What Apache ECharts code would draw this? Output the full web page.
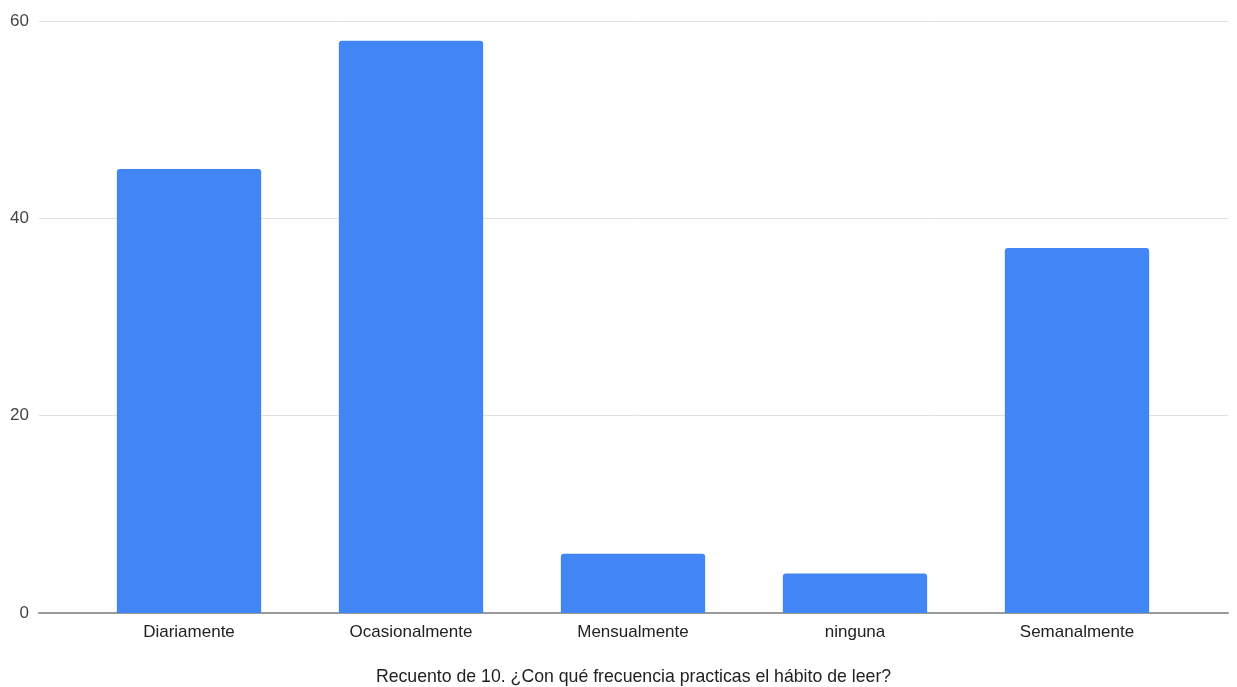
<!DOCTYPE html>
<html><head><meta charset="utf-8">
<script src="https://cdn.jsdelivr.net/npm/echarts@6/dist/echarts.min.js"></script>
<style>html,body{margin:0;padding:0;background:#fff}#c{width:1237px;height:687px}</style>
</head><body><div id="c"></div>
<script>
const categories = ["Diariamente", "Ocasionalmente", "Mensualmente", "ninguna", "Semanalmente"];
const counts = [45, 58, 6, 4, 37];
const yTicks = [0, 20, 40, 60];
const xTitle = "Recuento de 10. ¿Con qué frecuencia practicas el hábito de leer?";

const chart = echarts.init(document.getElementById('c'));
const font = '"Liberation Sans", Arial, sans-serif';
chart.setOption({
  animation: false,
  grid: [
    {left: 39, right: 9, top: 21, bottom: 74, outerBoundsMode: 'none', containLabel: false},
    {left: 78, right: 49, top: 21, bottom: 74, outerBoundsMode: 'none', containLabel: false}
  ],
  xAxis: [
    {type: 'value', gridIndex: 0, min: 0, max: 1, show: true,
     axisLine: {show: true, onZero: false, lineStyle: {color: '#999', width: 2}},
     axisTick: {show: false}, axisLabel: {show: false}, splitLine: {show: false},
     name: xTitle, nameLocation: 'middle', nameGap: 55,
     nameTextStyle: {color: '#222', fontSize: 17.7, fontFamily: font}},
    {type: 'category', gridIndex: 1, data: categories,
     axisLine: {show: false}, axisTick: {show: false},
     axisLabel: {color: '#222', fontSize: 17, fontFamily: font, margin: 11}}
  ],
  yAxis: [
    {type: 'value', gridIndex: 0, min: yTicks[0], max: yTicks[yTicks.length-1], interval: 20,
     axisLine: {show: false}, axisTick: {show: false},
     axisLabel: {color: '#444', fontSize: 17, fontFamily: font, margin: 10},
     splitLine: {lineStyle: {color: '#e0e0e0', width: 1}}},
    {type: 'value', gridIndex: 1, min: yTicks[0], max: yTicks[yTicks.length-1], interval: 20,
     show: false}
  ],
  series: [{
    type: 'bar', xAxisIndex: 1, yAxisIndex: 1, data: counts,
    barCategoryGap: '35%',
    itemStyle: {color: '#4285F4', borderRadius: [3, 3, 0, 0]},
    z: 1
  }]
});
</script></body></html>
